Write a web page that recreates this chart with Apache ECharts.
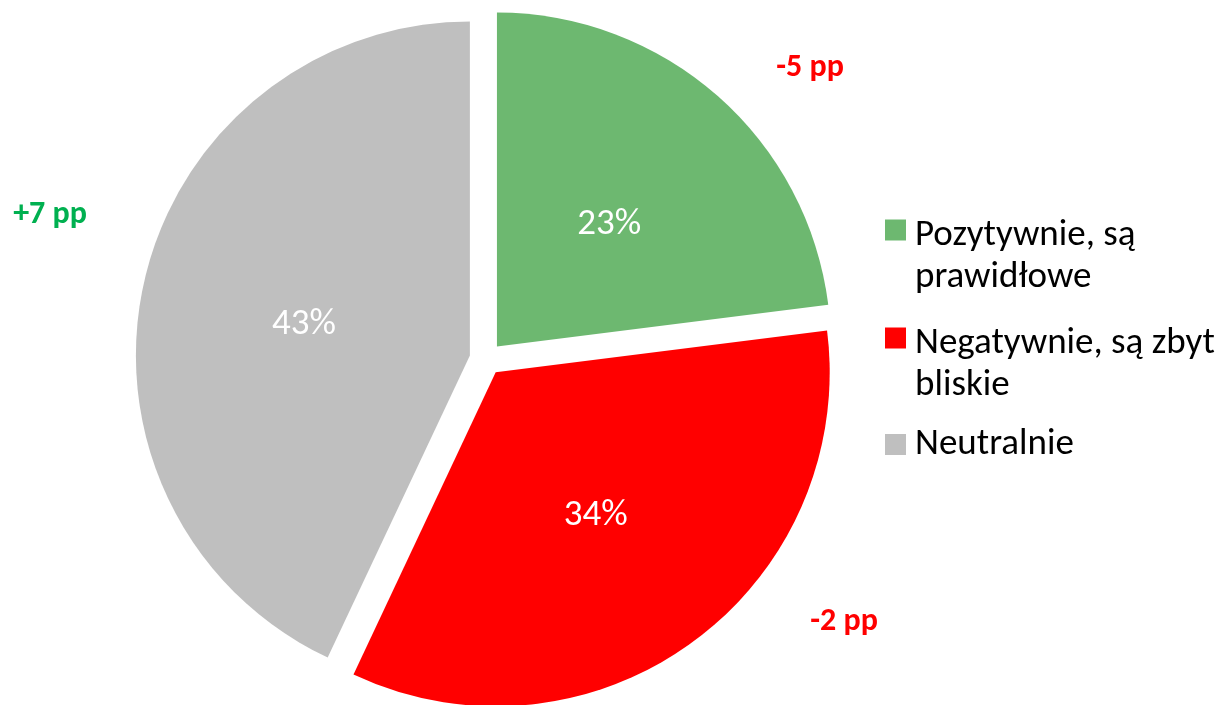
<!DOCTYPE html>
<html>
<head>
<meta charset="utf-8">
<script src="https://cdn.jsdelivr.net/npm/echarts@6/dist/echarts.min.js"></script>
<style>
html,body{margin:0;padding:0;background:#fff;}
#chart{width:1223px;height:705px;}
</style>
</head>
<body>
<div id="chart"></div>
<script>
// dane wykresu
var categories = ["Pozytywnie, są prawidłowe", "Negatywnie, są zbyt bliskie", "Neutralnie"];
var legendLines = ["Pozytywnie, są\nprawidłowe", "Negatywnie, są zbyt\nbliskie", "Neutralnie"];
var shares = [23, 34, 43];
var changes = ["-5 pp", "-2 pp", "+7 pp"];
var changeColors = ["#FF0000", "#FF0000", "#00B050"];
var sliceColors = ["#6DB870", "#FF0000", "#BFBFBF"];

var FONT = "Carlito, Lato, sans-serif";

// pozycje etykiet zmian (px)
var changePos = [[810, 68], [844, 622], [50, 215]];
// legenda - pozycja góry dla każdej pozycji
var legendTop = [183, 291, 426];

var chart = echarts.init(document.getElementById("chart"));

var pieData = [];
for(var i=0;i<categories.length;i++){
	pieData.push({
		name: categories[i],
		value: shares[i],
		selected: true,
		itemStyle: {color: sliceColors[i]}
	});
}

//tekst legendy - ikona przy pierwszej linii
function legendText(idx){
	var parts = legendLines[idx].split("\n");
	if(parts.length == 1) return "{t|" + parts[0] + "}";
	var s = "{s| }";
	for(var k=0;k<parts.length;k++){
		s += "\n{t|" + parts[k] + "}";
	}
	return s;
}

var legends = [];
for(var i=0;i<categories.length;i++){
	legends.push({
		data: [categories[i]],
		left: 885,
		top: legendTop[i],
		padding: 0,
		orient: "vertical",
		icon: "rect",
		itemWidth: 21,
		itemHeight: 21,
		selectedMode: false,
		formatter: (function(idx){ return function(){ return legendText(idx); }; })(i),
		textStyle: {
			fontFamily: FONT,
			fontSize: 37,
			color: "#000",
			rich: {
				s: {fontSize: 10, lineHeight: 54},
				t: {fontFamily: FONT, fontSize: 37, color: "#000", lineHeight: 42, padding: [0, 0, 0, 4]}
			}
		}
	});
}

var graphics = [];
for(var i=0;i<changes.length;i++){
	graphics.push({
		type: "text",
		x: changePos[i][0],
		y: changePos[i][1],
		style: {
			text: changes[i],
			fill: changeColors[i],
			font: "bold 32px " + FONT,
			textAlign: "center",
			textVerticalAlign: "middle"
		}
	});
}

chart.setOption({
	animation: false,
	backgroundColor: "#fff",
	legend: legends,
	graphic: graphics,
	series: [{
		type: "pie",
		center: [486, 359],
		radius: [0, 334],
		startAngle: 90,
		clockwise: true,
		selectedMode: "multiple",
		selectedOffset: 16.5,
		avoidLabelOverlap: false,
		itemStyle: {borderWidth: 0},
		label: {
			show: true,
			position: "inner",
			formatter: "{c}%",
			color: "#fff",
			fontFamily: FONT,
			fontSize: 37
		},
		labelLayout: {dy: 6},
		labelLine: {show: false},
		emphasis: {disabled: true},
		select: {itemStyle: {borderWidth: 0}},
		data: pieData
	}]
});
</script>
</body>
</html>
